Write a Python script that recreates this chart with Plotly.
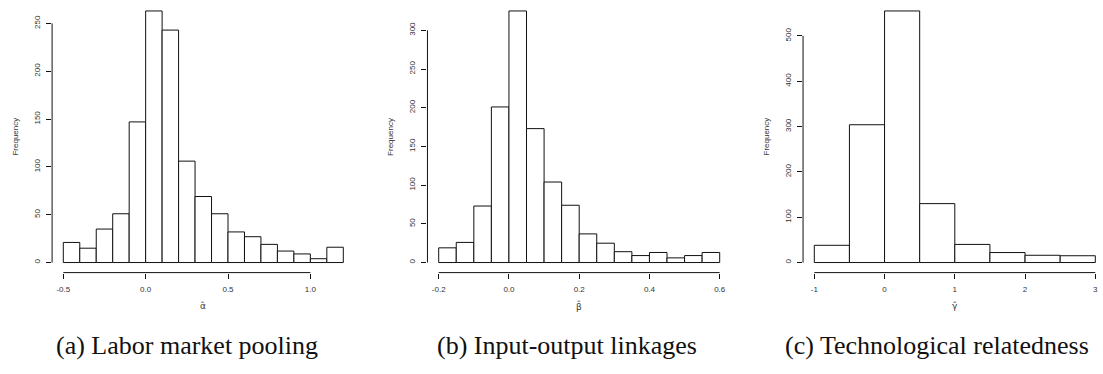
import plotly.graph_objects as go

# ---------------- data ----------------
alpha_breaks = [-0.5, -0.4, -0.3, -0.2, -0.1, 0.0, 0.1, 0.2, 0.3, 0.4, 0.5,
                0.6, 0.7, 0.8, 0.9, 1.0, 1.1, 1.2]
alpha_counts = [21, 15, 35, 51, 147, 263, 243, 106, 69, 51, 32, 27, 19, 12, 9, 4, 16]
alpha_xticks = [-0.5, 0.0, 0.5, 1.0]
alpha_xlabels = ["-0.5", "0.0", "0.5", "1.0"]
alpha_yticks = [0, 50, 100, 150, 200, 250]

beta_breaks = [-0.2, -0.15, -0.1, -0.05, 0.0, 0.05, 0.1, 0.15, 0.2, 0.25, 0.3,
               0.35, 0.4, 0.45, 0.5, 0.55, 0.6]
beta_counts = [19, 26, 73, 201, 325, 173, 104, 74, 37, 25, 14, 9, 13, 6, 9, 13]
beta_xticks = [-0.2, 0.0, 0.2, 0.4, 0.6]
beta_xlabels = ["-0.2", "0.0", "0.2", "0.4", "0.6"]
beta_yticks = [0, 50, 100, 150, 200, 250, 300]

gamma_breaks = [-1.0, -0.5, 0.0, 0.5, 1.0, 1.5, 2.0, 2.5, 3.0]
gamma_counts = [38, 304, 555, 130, 40, 22, 16, 15]
gamma_xticks = [-1, 0, 1, 2, 3]
gamma_xlabels = ["-1", "0", "1", "2", "3"]
gamma_yticks = [0, 100, 200, 300, 400, 500]

xtitles = ["α̂", "β̂", "γ̂"]
captions = ["(a) Labor market pooling", "(b) Input-output linkages",
            "(c) Technological relatedness"]

# ---------------- layout geometry (pixels) ----------------
W, H = 1103, 374
# pixel positions of first and last break for each panel
break_px = [(63.3, 343.3), (438.7, 719.7), (814.3, 1095.3)]
plot_top, plot_bot = 0.9, 272.6
caption_pos = [(187.2, "center"), (567.3, "center"), (783.0, "left")]
caption_y = 345.5

def px(x):
    return x / W

def py(y):
    return 1 - y / H

panels = [
    (alpha_breaks, alpha_counts, alpha_xticks, alpha_xlabels, alpha_yticks),
    (beta_breaks, beta_counts, beta_xticks, beta_xlabels, beta_yticks),
    (gamma_breaks, gamma_counts, gamma_xticks, gamma_xlabels, gamma_yticks),
]

fig = go.Figure()
layout = dict(
    width=W, height=H, margin=dict(l=0, r=0, t=0, b=0),
    paper_bgcolor="white", plot_bgcolor="white", showlegend=False,
    font=dict(family="Liberation Sans, Arial, sans-serif", size=8, color="#333"),
)
shapes = []
annotations = []
tickfont = dict(family="Liberation Sans, Arial, sans-serif", size=8, color="#333")

for i, (brks, counts, xt, xl, yt) in enumerate(panels):
    n = i + 1
    xa = "x" if n == 1 else f"x{n}"
    ya = "y" if n == 1 else f"y{n}"
    p0, p1 = break_px[i]
    span_px = p1 - p0
    scale = span_px / (brks[-1] - brks[0])
    L = p0 - 0.04 * span_px
    R_full = p1 + 0.04 * span_px
    R = min(R_full, W)
    xr = [brks[0] + (L - p0) / scale, brks[-1] + (R - p1) / scale]
    ymax = max(counts)
    yr = [-0.04 * ymax, 1.04 * ymax]

    widths = [brks[k + 1] - brks[k] for k in range(len(counts))]
    fig.add_trace(go.Bar(
        x=brks[:-1], y=counts, width=widths, offset=0,
        marker=dict(color="white", line=dict(color="#111", width=1)),
        xaxis=xa, yaxis=ya, hoverinfo="skip",
    ))

    layout["xaxis" if n == 1 else f"xaxis{n}"] = dict(
        domain=[px(L), px(R)], range=xr, anchor=ya,
        showgrid=False, zeroline=False, showline=False,
        tickmode="array", tickvals=xt, ticktext=xl,
        ticks="outside", ticklen=5, tickwidth=1, tickcolor="#111",
        tickfont=tickfont, ticklabelstandoff=4,
    )
    layout["yaxis" if n == 1 else f"yaxis{n}"] = dict(
        domain=[py(plot_bot), py(plot_top)], range=yr, anchor=xa,
        showgrid=False, zeroline=False, showline=False,
        tickmode="array", tickvals=yt, ticktext=[str(v) for v in yt],
        ticks="outside", ticklen=5, tickwidth=1, tickcolor="#111",
        tickfont=tickfont, tickangle=-90, ticklabelstandoff=3,
    )
    # R-style axis lines spanning only the tick range
    shapes.append(dict(type="line", xref=xa, yref=f"{ya} domain",
                       x0=xt[0], x1=xt[-1], y0=0, y1=0,
                       line=dict(color="#111", width=1)))
    shapes.append(dict(type="line", xref=f"{xa} domain", yref=ya,
                       x0=0, x1=0, y0=yt[0], y1=yt[-1],
                       line=dict(color="#111", width=1)))
    # axis titles
    annotations.append(dict(
        text="Frequency", xref="paper", yref="paper",
        x=px(L - 36.3), y=py((plot_top + plot_bot) / 2),
        textangle=-90, showarrow=False, xanchor="center", yanchor="middle",
        font=dict(family="Liberation Sans, Arial, sans-serif", size=8, color="#333"),
    ))
    annotations.append(dict(
        text=xtitles[i], xref="paper", yref="paper",
        x=px((L + R_full) / 2), y=py(306),
        showarrow=False, xanchor="center", yanchor="middle",
        font=dict(family="DejaVu Sans, sans-serif", size=9, color="#333"),
    ))
    cx, anc = caption_pos[i]
    annotations.append(dict(
        text=captions[i], xref="paper", yref="paper",
        x=px(cx), y=py(caption_y),
        showarrow=False, xanchor=anc, yanchor="middle",
        font=dict(family="Liberation Serif, serif", size=26, color="#111"),
    ))

layout["shapes"] = shapes
layout["annotations"] = annotations
fig.update_layout(**layout)
fig.write_html(
    "out.html",
    config={"displayModeBar": False, "staticPlot": True},
    post_script="document.body.style.margin='0';document.body.style.overflow='hidden';",
)
